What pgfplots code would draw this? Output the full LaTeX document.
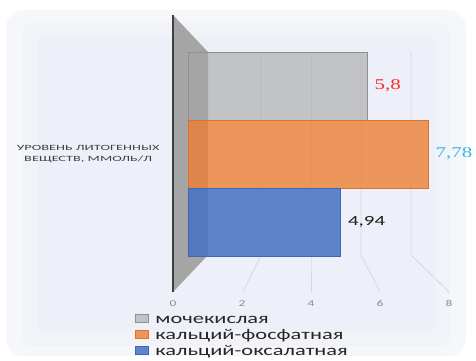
\documentclass[border=0pt]{standalone}
\usepackage{pgfplots}
\pgfplotsset{compat=1.18}
\usepackage{fontspec}
\setmainfont{Carlito}
\newfontfamily\sfst[FakeStretch=1.5]{Carlito}
\newfontfamily\sfwide[FakeStretch=1.8]{Carlito}
\newfontfamily\srst[FakeStretch=1.4]{Liberation Serif}
\definecolor{bgin}{HTML}{EDF0F8}
\definecolor{halo1}{HTML}{F6F7FB}
\definecolor{halo2}{HTML}{F1F3F9}
\definecolor{gridc}{HTML}{D6D8DE}
\definecolor{wallc}{HTML}{A5A5A5}
\definecolor{walll}{HTML}{3F3F3F}
\definecolor{grayb}{HTML}{A5A5A5}
\definecolor{graye}{HTML}{8F8F8F}
\definecolor{orab}{HTML}{ED7D31}
\definecolor{orae}{HTML}{E0722A}
\definecolor{blub}{HTML}{4472C4}
\definecolor{blue2}{HTML}{3E67B2}
\definecolor{vred}{HTML}{FF2A2A}
\definecolor{vblue}{HTML}{35B6F0}
\definecolor{vblack}{HTML}{1A1A1A}
\definecolor{legtext}{HTML}{262626}
\definecolor{tickg}{HTML}{8C8C8C}
\definecolor{catg}{HTML}{404040}
\begin{document}
\begin{tikzpicture}
\begin{scope}[x=1bp,y=1bp]
\useasboundingbox (0,0) rectangle (476,356);
% background halo and plot area
\fill[halo1,rounded corners=18bp] (6,0) rectangle (466,346);
\fill[halo2,rounded corners=10bp] (22,10) rectangle (450,333);
\fill[bgin] (38,26) rectangle (435,319);
% gridlines (back wall to floor)
\foreach \b/\f in {261/243,311/311,361/380,411/449}{
  \draw[gridc,line width=0.8bp] (\b,304) -- (\b,101) -- (\f,64);
}
% side wall
\fill[wallc] (173,341) -- (208,304) -- (208,101) -- (173,64) -- cycle;
\draw[walll,line width=2bp] (173,341) -- (173,64);
\end{scope}
% main axis with bars
\begin{axis}[
  at={(173bp,64bp)}, anchor=south west, scale only axis,
  width=262bp, height=277bp,
  xmin=-0.486, xmax=8, ymin=-0.03, ymax=4.04,
  xbar, bar width=1, bar shift=0pt,
  axis line style={draw=none}, major tick length=0pt,
  xtick=\empty, ytick={2},
  yticklabels={{УРОВЕНЬ ЛИТОГЕННЫХ\\ВЕЩЕСТВ{,} ММОЛЬ/Л}},
  yticklabel style={align=center, font=\sfwide\fontsize{8}{11}\selectfont, text=catg, xshift=-10bp},
  point meta=x,
  nodes near coords,
  /pgf/number format/use comma, /pgf/number format/fixed,
  /pgf/number format/precision=2, /pgf/number format/assume math mode=true,
  every node near coord/.append style={anchor=west, text opacity=1, fill opacity=1, xshift=4bp},
  legend image code/.code={\draw[#1] (0bp,-1bp) rectangle (13bp,7bp);},
  legend cell align=left,
  legend style={at={(axis description cs:-0.145,-0.075)}, anchor=north west,
    draw=none, fill=none, inner sep=0pt, outer sep=0pt,
    row sep=0pt, /tikz/column sep=7bp,
    font=\sfst\fontsize{15}{16}\selectfont, text=legtext,
    nodes={inner sep=0pt, text height=11bp, text depth=5bp}},
]
\addplot[fill=grayb, draw=graye, fill opacity=0.6,
  every node near coord/.append style={text=vred, font=\srst\fontsize{15}{15}\selectfont}]
  coordinates {(5.8,3)};
\addlegendentry{мочекислая}
\addplot[fill=orab, draw=orae, fill opacity=0.78,
  every node near coord/.append style={text=vblue, font=\srst\fontsize{15}{15}\selectfont}]
  coordinates {(7.78,2)};
\addlegendentry{кальций-фосфатная}
\addplot[fill=blub, draw=blue2, fill opacity=0.85,
  every node near coord/.append style={text=vblack, font=\sfst\fontsize{14}{14}\selectfont}]
  coordinates {(4.94,1)};
\addlegendentry{кальций-оксалатная}
\end{axis}
% floor axis carrying the tick labels
\begin{axis}[
  at={(173bp,64bp)}, anchor=south west, scale only axis,
  width=276bp, height=10bp,
  xmin=0, xmax=8, ymin=0, ymax=1,
  axis line style={draw=none}, major tick length=0pt,
  ytick=\empty, xtick={0,2,4,6,8},
  xticklabel style={font=\sfst\fontsize{9}{9}\selectfont, text=tickg, yshift=-5bp,
    /pgf/number format/assume math mode=true},
]
\end{axis}
\end{tikzpicture}
\end{document}
